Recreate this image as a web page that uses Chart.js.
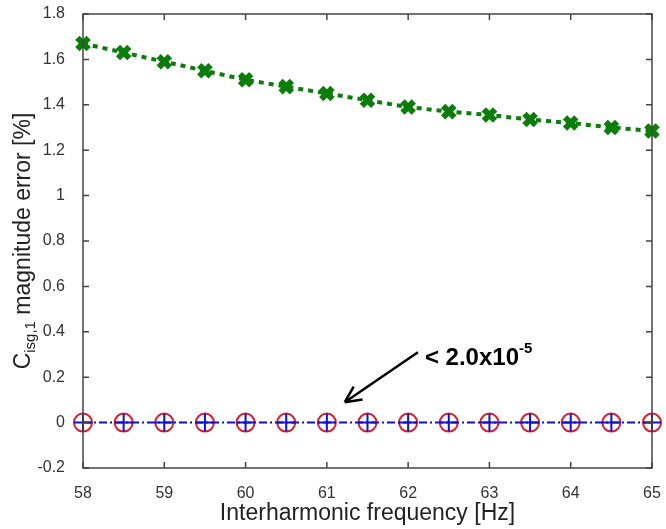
<!DOCTYPE html>
<html>
<head>
<meta charset="utf-8">
<script src="https://cdn.jsdelivr.net/npm/chart.js@4/dist/chart.umd.min.js"></script>
<style>
    html, body { margin: 0; padding: 0; background: #fff; }
    #wrap { width: 666px; height: 529px; }
</style>
</head>
<body>
<div id="wrap"><canvas id="ChartError"></canvas></div>
<script>
// frecuencias interarmonicas [Hz]
const Freqs = [58, 58.5, 59, 59.5, 60, 60.5, 61, 61.5, 62, 62.5, 63, 63.5, 64, 64.5, 65];
// error de magnitud [%]
const ErrVerde = [1.67, 1.63, 1.59, 1.55, 1.51, 1.48, 1.45, 1.42, 1.39, 1.37, 1.355, 1.335, 1.32, 1.30, 1.285];
const ErrRojo = [0, 0, 0, 0, 0, 0, 0, 0, 0, 0, 0, 0, 0, 0, 0];
const ErrAzul = [0, 0, 0, 0, 0, 0, 0, 0, 0, 0, 0, 0, 0, 0, 0];
const TicksX = [58, 59, 60, 61, 62, 63, 64, 65];
const TicksY = [-0.2, 0, 0.2, 0.4, 0.6, 0.8, 1, 1.2, 1.4, 1.6, 1.8];
// flecha de anotacion (en unidades de datos)
const FlechaDesde = { x: 62.12, y: 0.31 };
const FlechaHasta = { x: 61.22, y: 0.09 };

const toPts = (ys) => Freqs.map((f, i) => ({ x: f, y: ys[i] }));

const MarcoPlugin = {
    id: 'marco',
    afterDraw: (chart) => {
        const ctx = chart.ctx;
        const a = chart.chartArea;
        const sx = chart.scales.x, sy = chart.scales.y;
        ctx.save();
        ctx.strokeStyle = '#444';
        ctx.lineWidth = 1.5;
        ctx.strokeRect(a.left, a.top, a.right - a.left, a.bottom - a.top);
        ctx.beginPath();
        TicksX.forEach(v => {
            const px = sx.getPixelForValue(v);
            ctx.moveTo(px, a.bottom); ctx.lineTo(px, a.bottom - 6);
            ctx.moveTo(px, a.top); ctx.lineTo(px, a.top + 6);
        });
        TicksY.forEach(v => {
            const py = sy.getPixelForValue(v);
            ctx.moveTo(a.left, py); ctx.lineTo(a.left + 6, py);
            ctx.moveTo(a.right, py); ctx.lineTo(a.right - 6, py);
        });
        ctx.stroke();

        // titulo eje Y con subindice
        ctx.fillStyle = '#222';
        ctx.translate(30, (a.top + a.bottom) / 2);
        ctx.rotate(-Math.PI / 2);
        ctx.textBaseline = 'alphabetic';
        const f1 = '23px "Liberation Sans", Arial, sans-serif';
        const f2 = '15px "Liberation Sans", Arial, sans-serif';
        ctx.font = f1; const wC = ctx.measureText('C').width;
        ctx.font = f2; const wS = ctx.measureText('isg,1').width;
        ctx.font = f1; const wR = ctx.measureText(' magnitude error [%]').width;
        let x0 = -(wC + wS + wR) / 2;
        ctx.font = f1; ctx.fillText('C', x0, 0); x0 += wC;
        ctx.font = f2; ctx.fillText('isg,1', x0, 5); x0 += wS;
        ctx.font = f1; ctx.fillText(' magnitude error [%]', x0, 0);
        ctx.restore();

        // flecha y texto
        const x1 = sx.getPixelForValue(FlechaDesde.x), y1 = sy.getPixelForValue(FlechaDesde.y);
        const x2 = sx.getPixelForValue(FlechaHasta.x), y2 = sy.getPixelForValue(FlechaHasta.y);
        ctx.save();
        ctx.strokeStyle = '#000';
        ctx.lineWidth = 2.5;
        ctx.beginPath();
        ctx.moveTo(x1, y1); ctx.lineTo(x2, y2);
        const ang = Math.atan2(y2 - y1, x2 - x1);
        const L = 18;
        ctx.moveTo(x2, y2); ctx.lineTo(x2 - L * Math.cos(ang - 0.45), y2 - L * Math.sin(ang - 0.45));
        ctx.moveTo(x2, y2); ctx.lineTo(x2 - L * Math.cos(ang + 0.45), y2 - L * Math.sin(ang + 0.45));
        ctx.stroke();
        ctx.fillStyle = '#000';
        ctx.font = 'bold 24px "Liberation Sans", Arial, sans-serif';
        const tx = x1 + 7, ty = y1 + 13;
        ctx.fillText('< 2.0x10', tx, ty);
        const w = ctx.measureText('< 2.0x10').width;
        ctx.font = 'bold 15px "Liberation Sans", Arial, sans-serif';
        ctx.fillText('-5', tx + w, ty - 12);
        ctx.restore();
    }
};

const ctxError = document.getElementById('ChartError');
const ChartError = new Chart(ctxError, {
    type: 'scatter',
    data: {
        datasets: [{
            label: 'verde',
            data: toPts(ErrVerde),
            showLine: true,
            clip: false,
            borderColor: '#0a7d0a',
            backgroundColor: '#0a7d0a',
            borderWidth: 4,
            borderDash: [5, 5],
            pointStyle: 'crossRot',
            pointRadius: 8,
            pointBorderWidth: 6,
            pointBorderColor: '#0a7d0a',
            order: 1
        }, {
            label: 'rojo',
            data: toPts(ErrRojo),
            showLine: false,
            clip: false,
            pointStyle: 'circle',
            pointRadius: 9,
            pointBorderWidth: 2,
            pointBorderColor: '#e01a2a',
            pointBackgroundColor: 'rgba(0,0,0,0)',
            order: 3
        }, {
            label: 'azul',
            data: toPts(ErrAzul),
            showLine: true,
            clip: false,
            borderColor: '#1010d0',
            borderWidth: 2,
            borderDash: [8, 3, 2, 3],
            pointStyle: 'cross',
            pointRadius: 9,
            pointBorderWidth: 2,
            pointBorderColor: '#1010d0',
            order: 2
        }]
    },
    options: {
        responsive: true,
        maintainAspectRatio: false,
        animation: false,
        layout: { padding: { top: 14, right: 9, left: 0, bottom: 0 } },
        plugins: { legend: { display: false }, tooltip: { enabled: false } },
        scales: {
            x: {
                type: 'linear',
                min: 58, max: 65,
                afterBuildTicks: (s) => { s.ticks = TicksX.map(v => ({ value: v })); },
                afterFit: (s) => { s.height = 61; s.paddingLeft = 0; s.paddingRight = 0; },
                grid: { display: false },
                border: { display: false },
                ticks: {
                    color: '#333',
                    padding: 8,
                    font: { family: '"Liberation Sans", Arial, sans-serif', size: 16 },
                    callback: (v) => String(v)
                },
                title: {
                    display: true,
                    text: 'Interharmonic frequency [Hz]',
                    color: '#222',
                    padding: { top: 0, bottom: 2 },
                    font: { family: '"Liberation Sans", Arial, sans-serif', size: 23 }
                }
            },
            y: {
                type: 'linear',
                min: -0.2, max: 1.8,
                afterBuildTicks: (s) => { s.ticks = TicksY.map(v => ({ value: v })); },
                afterFit: (s) => { s.width = 83; s.paddingTop = 0; s.paddingBottom = 0; },
                grid: { display: false },
                border: { display: false },
                ticks: {
                    color: '#333',
                    padding: 10,
                    font: { family: '"Liberation Sans", Arial, sans-serif', size: 16 },
                    callback: (v) => String(Math.round(v * 10) / 10)
                }
            }
        }
    },
    plugins: [MarcoPlugin]
});
</script>
</body>
</html>
